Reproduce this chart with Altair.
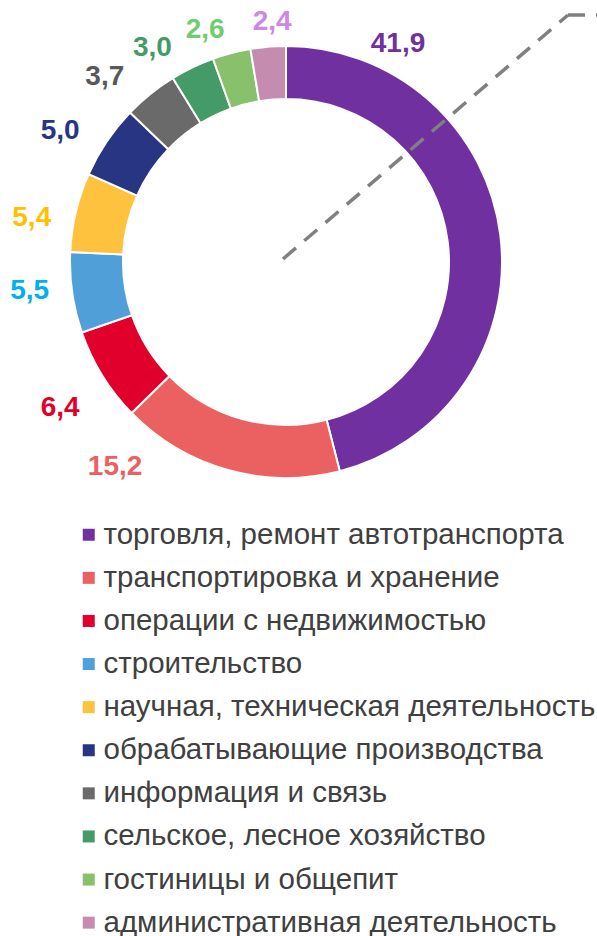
import altair as alt
import pandas as pd

categories = [
    "торговля, ремонт автотранспорта",
    "транспортировка и хранение",
    "операции с недвижимостью",
    "строительство",
    "научная, техническая деятельность",
    "обрабатывающие производства",
    "информация и связь",
    "сельское, лесное хозяйство",
    "гостиницы и общепит",
    "административная деятельность",
]
values = [41.9, 15.2, 6.4, 5.5, 5.4, 5.0, 3.7, 3.0, 2.6, 2.4]
value_labels = ["41,9", "15,2", "6,4", "5,5", "5,4", "5,0", "3,7", "3,0", "2,6", "2,4"]

slice_colors = ["#7030A0", "#EB6161", "#E1002B", "#519FD8", "#FFC23F",
                "#283583", "#6A6A6A", "#449B68", "#88C06C", "#C48CAE"]
label_colors = ["#7030A0", "#EB6161", "#E1002B", "#00B0F0", "#FFC000",
                "#283583", "#595959", "#449B68", "#70CC70", "#CC88E8"]

# label placement (polar, degrees clockwise from top / pixels from centre)
label_angle = [27.2, 219.8, 237.1, 263.5, 279.8, 300.1, 315.6, 328.0, 340.8, 356.7]
label_radius = [245, 267, 269, 258, 258, 261, 259, 252, 246, 240]

CX, CY = 286, 262
FONT = "Arial, Liberation Sans, sans-serif"

df = pd.DataFrame({
    "cat": categories,
    "val": values,
    "idx": list(range(len(values))),
    "lab": value_labels,
    "lc": label_colors,
    "la": label_angle,
    "lr": label_radius,
})

arcs = alt.Chart(df).mark_arc(
    radius=216, radius2=163, stroke="white", strokeWidth=2
).encode(
    theta=alt.Theta("val:Q", stack=True),
    order=alt.Order("idx:Q"),
    color=alt.Color(
        "cat:N",
        scale=alt.Scale(domain=categories, range=slice_colors),
        sort=categories,
        legend=alt.Legend(
            title=None, orient="none", legendX=74, legendY=520,
            symbolType="square", symbolSize=144, symbolStrokeWidth=0,
            labelFont=FONT, labelFontSize=29.5, labelColor="#404040",
            labelLimit=600, labelOffset=0, rowPadding=12.1, direction="vertical",
        ),
    ),
    x=alt.value(CX),
    y=alt.value(CY),
)

labels = alt.Chart(df).mark_text(
    font=FONT, fontSize=28, fontWeight="bold", align="center", baseline="middle"
).encode(
    theta=alt.Theta("la:Q", scale=alt.Scale(domain=[0, 360], range=[0, 6.283185307179586]), stack=False),
    radius=alt.Radius("lr:Q", scale=alt.Scale(type="linear", domain=[0, 300], range=[0, 300], zero=True)),
    text="lab:N",
    color=alt.Color("lc:N", scale=None, legend=None),
    x=alt.value(CX),
    y=alt.value(CY),
)

one = pd.DataFrame({"a": [0]})
diag = alt.Chart(one).mark_rule(
    color="#808080", strokeWidth=3.5, strokeDash=[17, 11]
).encode(
    x=alt.value(283), y=alt.value(259), x2=alt.value(568), y2=alt.value(15)
)
horiz = alt.Chart(one).mark_rule(
    color="#808080", strokeWidth=3.5, strokeDash=[17, 11]
).encode(
    x=alt.value(568), y=alt.value(15), x2=alt.value(597), y2=alt.value(15)
)

chart = alt.layer(arcs, labels, diag, horiz).resolve_scale(
    color="independent", theta="independent", radius="independent"
).properties(
    width=597, height=936, autosize=alt.AutoSizeParams(type="none"), padding=0
).configure_view(stroke=None)

chart.save("out.html", embed_options={"renderer": "svg", "actions": False})
